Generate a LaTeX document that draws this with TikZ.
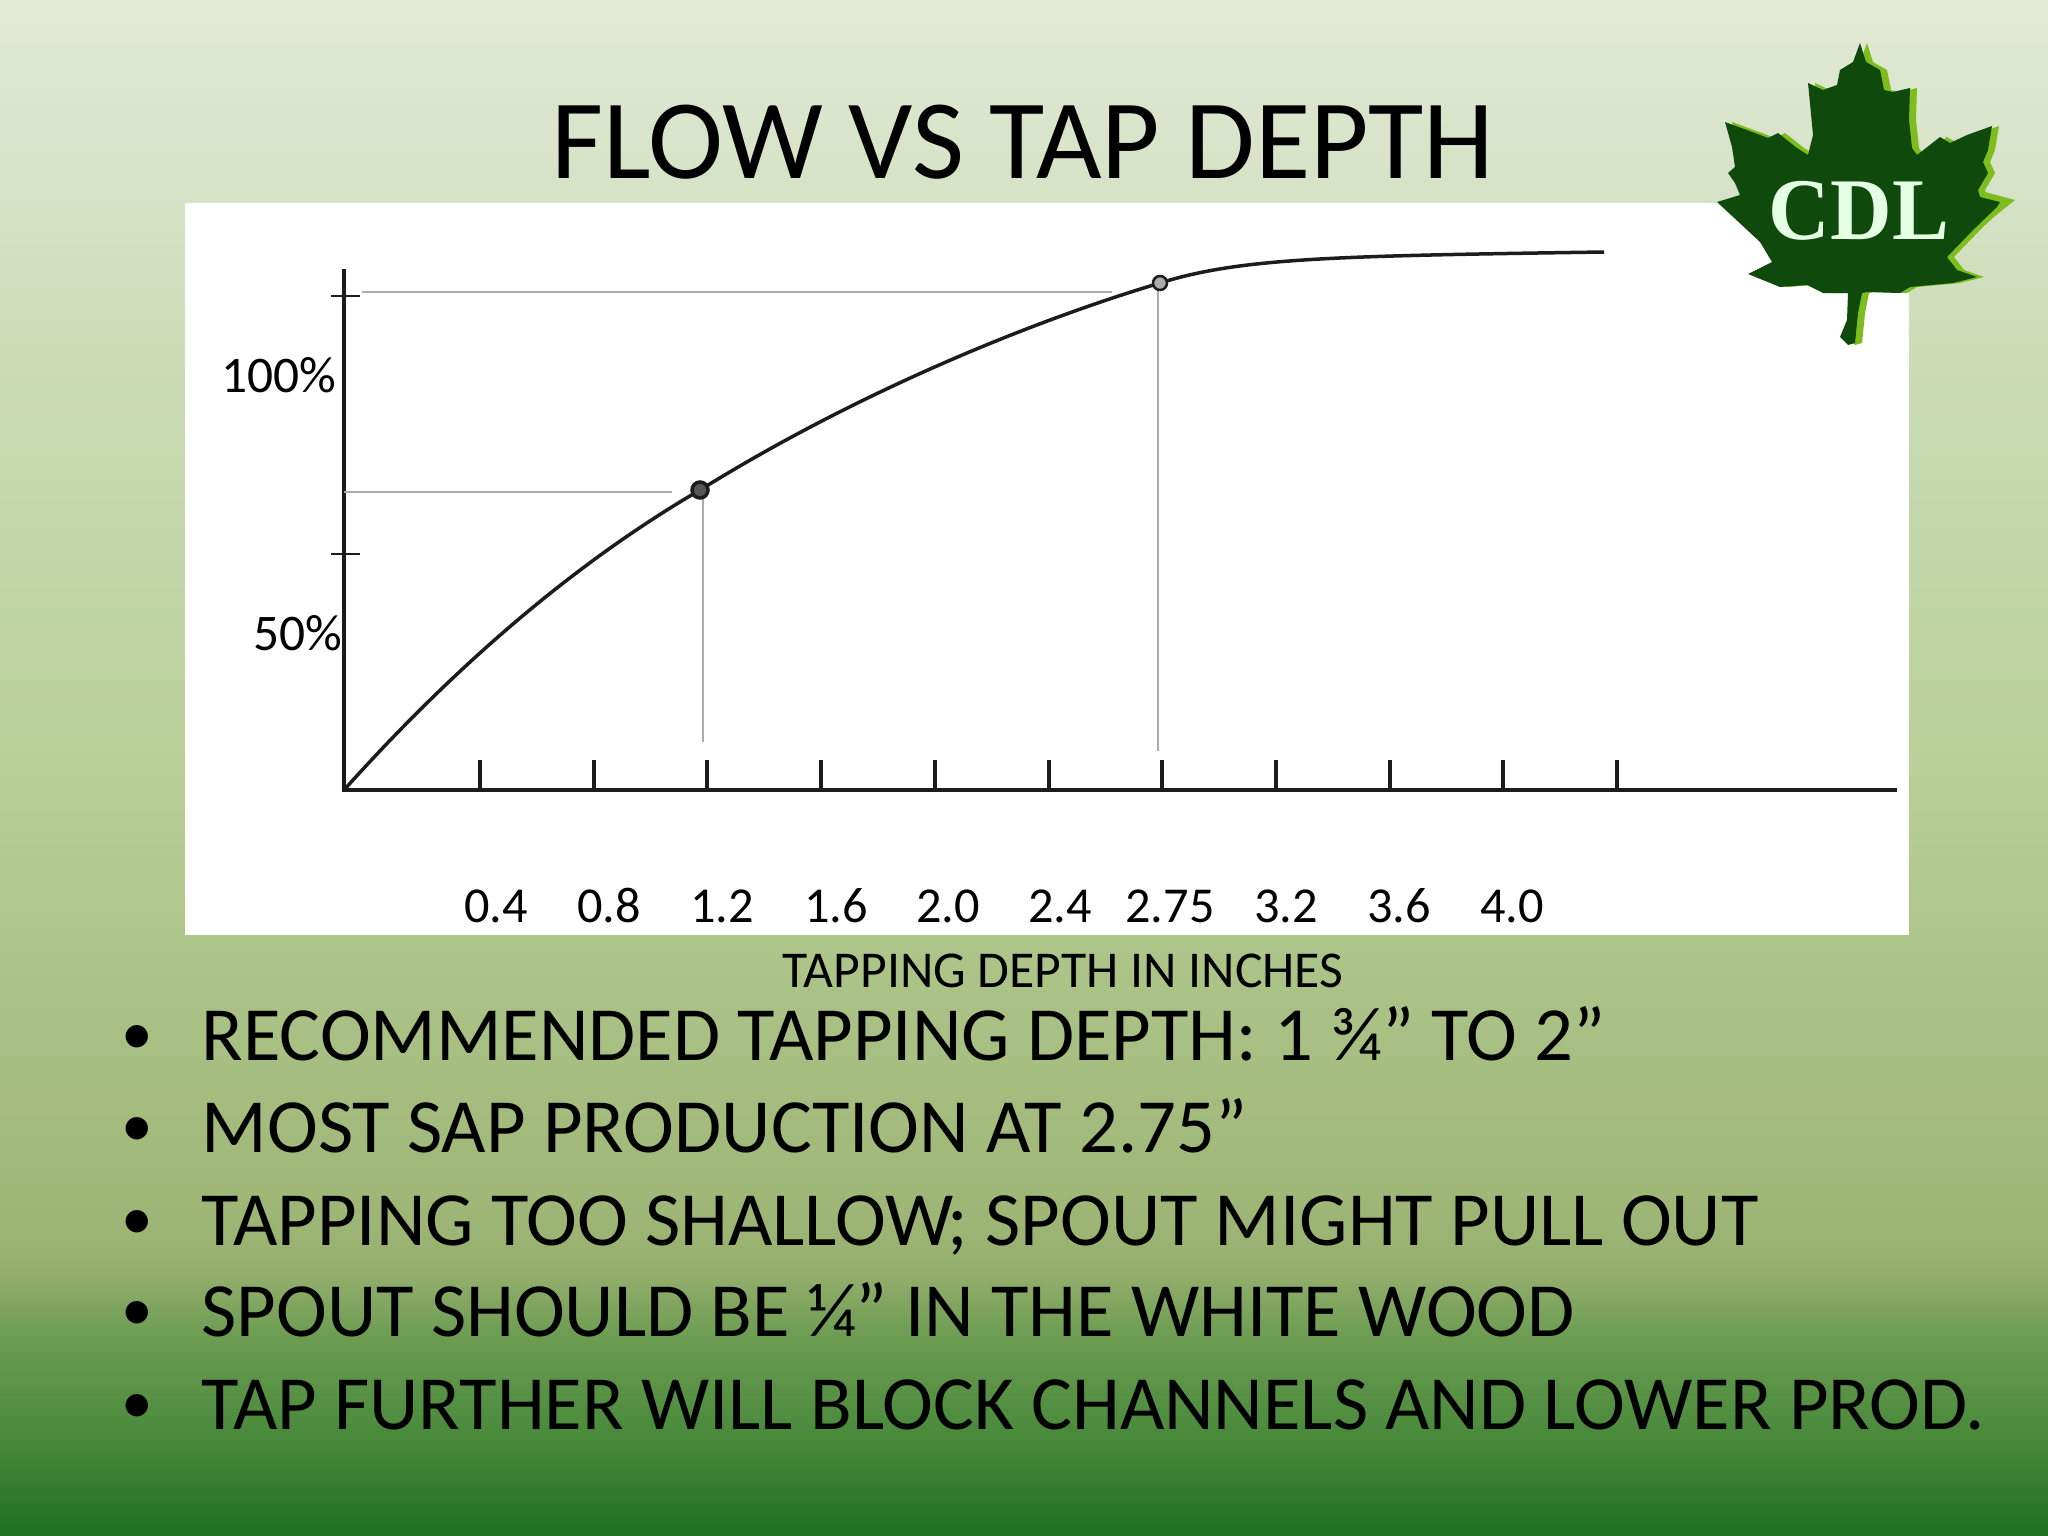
\documentclass[tikz,border=0pt]{standalone}
\usepackage{fontspec}
\setmainfont{Carlito}
\newfontfamily\logofont{Liberation Serif}
\usetikzlibrary{calc}
\definecolor{leafdark}{HTML}{0F4A0C}
\definecolor{leaflight}{HTML}{7DBE1E}
\definecolor{guidegray}{HTML}{ABABAB}
\definecolor{axisgray}{HTML}{1C1C1C}
\definecolor{bgtop}{HTML}{E2E9D6}
\definecolor{bgquarter}{HTML}{CADBB4}
\definecolor{bghalf}{HTML}{B8CF98}
\definecolor{bglow}{HTML}{9DB574}
\definecolor{bgfade}{HTML}{93AE6C}
\definecolor{bgmid}{HTML}{6C9C52}
\definecolor{bgdeep}{HTML}{468839}
\definecolor{bgbottom}{HTML}{1F6F1F}
% stops run from 25bp (bottom of the slide) to 75bp (top)
\pgfdeclareverticalshading{slidegreen}{100bp}{
	color(0bp)=(bgbottom);
	color(25bp)=(bgbottom);
	color(28bp)=(bgdeep);
	color(31.5bp)=(bgmid);
	color(33.5bp)=(bgfade);
	color(35bp)=(bglow);
	color(50bp)=(bghalf);
	color(62.5bp)=(bgquarter);
	color(75bp)=(bgtop);
	color(100bp)=(bgtop)}
\tikzset{
	titletext/.style={font=\fontsize{32.2}{32.2}\selectfont, anchor=base},
	bullettext/.style={font=\fontsize{21.8}{21.8}\selectfont, anchor=base west, inner sep=0pt},
	ticktext/.style={font=\fontsize{14.3}{14.3}\selectfont, inner sep=0pt},
	axisline/.style={line width=0.35mm, color=axisgray},
	guideline/.style={line width=0.25mm, color=guidegray},
	flowpoint/.style={circle, draw=axisgray, fill=guidegray!50!black, line width=0.35mm, minimum size=1.6mm, inner sep=0pt}
}
% leaf outline, in pixels of the slide
\def\leafshape{(1860,43) (1866,62) (1880,70) (1884,90) (1893,92) (1910,88) (1909,120) (1912,148) (1917,155) (1940,137) (1950,143) (1967,135) (1992,126) (1988,150) (1983,162) (1988,173) (1978,190) (1980,197) (2000,202) (1997,207) (1973,230) (1947,257) (1957,270) (1977,277) (1953,283) (1910,287) (1900,293) (1867,292) (1862,293) (1858,313) (1855,343) (1848,345) (1840,337) (1847,320) (1848,293) (1823,293) (1807,285) (1780,287) (1748,274) (1772,262) (1760,242) (1717,202) (1740,195) (1735,183) (1728,173) (1735,167) (1732,147) (1725,122) (1755,133) (1768,138) (1778,133) (1797,148) (1808,155) (1813,135) (1808,83) (1823,90) (1837,85) (1840,70) (1853,62)}
\begin{document}
\begin{tikzpicture}[x=0.01cm, y=-0.01cm]
	%%%%% SLIDE %%%%%
	\useasboundingbox (0, 0) rectangle (2048, 1536);
	\shade[shading=slidegreen] (0, 0) rectangle (2048, 1536);
	\fill[white] (185, 203) rectangle (1909, 935);
	
	\node[titletext] (title) at (1023, 178) {FLOW VS TAP DEPTH};
	
	%%%%% CHART %%%%%
	\draw[axisline] (344, 269) -- (344, 790) -- (1897, 790);
	\draw[axisline, line width=0.25mm] (331, 296) -- (360, 296);
	\draw[axisline, line width=0.25mm] (331, 554) -- (360, 554);
	\foreach \t in {0,...,10} {
		\draw[axisline, line width=0.4mm] ({480+113.7*\t}, 760) -- ({480+113.7*\t}, 790);
	}
	
	\coordinate (lefta) at (344, 492);
	\coordinate (righta) at (672, 492);
	\coordinate (leftb) at (362, 292);
	\coordinate (rightb) at (1112, 292);
	\coordinate (topa) at (703, 490);
	\coordinate (downa) at (703, 742);
	\coordinate (topb) at (1158, 283);
	\coordinate (downb) at (1158, 751);
	\draw[guideline] (lefta) -- (righta);
	\draw[guideline] (leftb) -- (rightb);
	\draw[guideline] (topa) -- (downa);
	\draw[guideline] (topb) -- (downb);
	
	\draw[axisline] (344, 790) .. controls (465, 655) and (585, 557) .. (700, 490) .. controls (850, 397) and (1020, 325) .. (1160, 283) .. controls (1240, 258) and (1330, 256) .. (1604, 252);
	\node[flowpoint] (pointa) at (700, 490) {};
	\node[flowpoint, minimum size=1.4mm, line width=0.25mm, fill=guidegray] (pointb) at (1160, 283) {};
	
	\node[ticktext, font=\fontsize{14.6}{14.6}\selectfont] (pcthundred) at (279, 375) {100\%};
	\node[ticktext, font=\fontsize{14.6}{14.6}\selectfont] (pctfifty) at (298, 633) {50\%};
	\foreach \x/\val in {496/0.4, 609/0.8, 722/1.2, 836/1.6, 948/2.0, 1060/2.4, 1170/2.75, 1286/3.2, 1399/3.6, 1512/4.0} {
		\node[ticktext] (depth\x) at (\x, 906) {\val};
	}
	\node[ticktext, font=\fontsize{14.7}{14.7}\selectfont] (depthtitle) at (1063, 971) {TAPPING DEPTH IN INCHES};
	
	%%%%% BULLETS %%%%%
	\foreach \y/\txt in {1060/RECOMMENDED TAPPING DEPTH: 1 ¾” TO 2”, 1152/MOST SAP PRODUCTION AT 2.75”, 1245/TAPPING TOO SHALLOW; SPOUT MIGHT PULL OUT, 1336/SPOUT SHOULD BE ¼” IN THE WHITE WOOD, 1429/TAP FURTHER WILL BLOCK CHANNELS AND LOWER PROD.} {
		\node[bullettext] (line\y) at (201, \y) {\txt};
		\node[bullettext, anchor=base, font=\fontsize{18}{18}\selectfont] (dot\y) at (137, \y-6) {•};
	}
	
	%%%%% LOGO %%%%%
	\fill[leaflight] plot[xshift=0.07cm] coordinates {\leafshape} -- cycle;
	\fill[leaflight] (1985, 192) -- (2015, 200) -- (1975, 232) -- cycle;
	\fill[leafdark] plot coordinates {\leafshape} -- cycle;
	\node[font=\logofont\bfseries\fontsize{25}{25}\selectfont, text=white!90!green, inner sep=0pt, xscale=0.97] (logotext) at (1859, 211) {CDL};
\end{tikzpicture}
\end{document}
